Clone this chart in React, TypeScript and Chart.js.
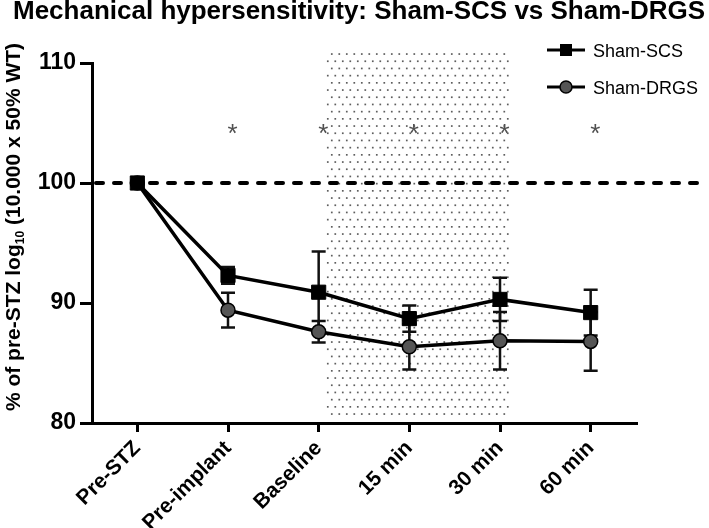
import React, { useEffect, useRef } from 'react';
import { Chart, registerables } from 'chart.js';

Chart.register(...registerables);

// ---- data ----
const categories = ['Pre-STZ', 'Pre-implant', 'Baseline', '15 min', '30 min', '60 min'];
const shamSCS = [100, 92.3, 90.9, 88.7, 90.3, 89.2];
const shamSCSErr = [0, 0.7, 3.4, 1.1, 1.8, 1.9];
const shamDRGS = [100, 89.4, 87.6, 86.35, 86.85, 86.8];
const shamDRGSErr = [0, 1.45, 0.9, 1.9, 2.4, 2.45];
const significance = ['', '*', '*', '*', '*', '*'];
const significanceLevel = 104.65;
const referenceValue = 100;
const stimulationStart = 2.1;
const stimulationEnd = 4.1;
const stimulationTop = 110.75;
const yMin = 80;
const yMax = 110;
const yStep = 10;

const FONT = '"Liberation Sans", Arial, sans-serif';

const decorPlugin = {
  id: 'decor',
  beforeDatasetsDraw(chart: any) {
    const { ctx, chartArea, scales } = chart;
    const x = scales.x;
    const y = scales.y;
    ctx.save();
    // dotted stimulation region
    const x0 = x.getPixelForValue(stimulationStart);
    const x1 = x.getPixelForValue(stimulationEnd);
    const yTop = y.getPixelForValue(stimulationTop);
    const yBot = chartArea.bottom - 2;
    ctx.fillStyle = '#5e5e5e';
    let row = 0;
    for (let py = yTop; py <= yBot; py += 7.2) {
      const start = row % 2 === 0 ? x0 + 4 : x0;
      for (let px = start; px <= x1; px += 7.5) {
        ctx.fillRect(px - 0.8, py - 0.8, 1.7, 1.7);
      }
      row++;
    }
    // dashed reference line
    const yr = y.getPixelForValue(referenceValue);
    ctx.beginPath();
    ctx.setLineDash([7, 11]);
    ctx.lineDashOffset = -2;
    ctx.lineCap = 'round';
    ctx.lineWidth = 4;
    ctx.strokeStyle = '#000';
    ctx.moveTo(chartArea.left + 2, yr);
    ctx.lineTo(chart.width - 12, yr);
    ctx.stroke();
    ctx.setLineDash([]);
    ctx.lineCap = 'butt';
    // error bars
    const series = [
      { v: shamDRGS, e: shamDRGSErr },
      { v: shamSCS, e: shamSCSErr },
    ];
    ctx.lineWidth = 2.5;
    ctx.strokeStyle = '#111';
    series.forEach((s) => {
      s.v.forEach((val, i) => {
        const err = s.e[i];
        if (!err) return;
        const px = x.getPixelForValue(i);
        const yh = y.getPixelForValue(val + err);
        const yl = y.getPixelForValue(val - err);
        ctx.beginPath();
        ctx.moveTo(px, yh);
        ctx.lineTo(px, yl);
        ctx.moveTo(px - 7, yh);
        ctx.lineTo(px + 7, yh);
        ctx.moveTo(px - 7, yl);
        ctx.lineTo(px + 7, yl);
        ctx.stroke();
      });
    });
    ctx.restore();
  },
  afterDraw(chart: any) {
    const { ctx, scales } = chart;
    const x = scales.x;
    const y = scales.y;
    ctx.save();
    // asterisks
    ctx.fillStyle = '#505050';
    ctx.font = `26px ${FONT}`;
    ctx.textAlign = 'center';
    ctx.textBaseline = 'alphabetic';
    significance.forEach((s, i) => {
      if (!s) return;
      const px = x.getPixelForValue(i + 0.05);
      const py = y.getPixelForValue(significanceLevel);
      ctx.fillText(s, px, py + 0.58 * 26);
    });
    // title
    ctx.fillStyle = '#000';
    ctx.textAlign = 'left';
    ctx.font = `bold 26px ${FONT}`;
    ctx.fillText('Mechanical hypersensitivity: Sham-SCS vs Sham-DRGS', 13, 19);
    // legend
    const items = [
      { label: 'Sham-SCS', style: 'rect', cy: 50 },
      { label: 'Sham-DRGS', style: 'circle', cy: 87 },
    ];
    items.forEach((it) => {
      ctx.beginPath();
      ctx.lineWidth = 3;
      ctx.strokeStyle = '#000';
      ctx.moveTo(547, it.cy);
      ctx.lineTo(585, it.cy);
      ctx.stroke();
      if (it.style === 'rect') {
        ctx.fillStyle = '#000';
        ctx.fillRect(560, it.cy - 6, 12, 12);
      } else {
        ctx.beginPath();
        ctx.arc(566, it.cy, 6, 0, Math.PI * 2);
        ctx.fillStyle = '#555';
        ctx.fill();
        ctx.lineWidth = 1.5;
        ctx.stroke();
      }
      ctx.fillStyle = '#000';
      ctx.font = `18px ${FONT}`;
      ctx.fillText(it.label, 593, it.cy + 7);
    });
    // y axis title with subscript
    ctx.translate(12, 227);
    ctx.rotate(-Math.PI / 2);
    const p1 = '% of pre-STZ log';
    const p2 = '10';
    const p3 = ' (10.000 x 50% WT)';
    const big = `bold 21px ${FONT}`;
    const small = `bold 12px ${FONT}`;
    ctx.font = big;
    const w1 = ctx.measureText(p1).width;
    const w3 = ctx.measureText(p3).width;
    ctx.font = small;
    const w2 = ctx.measureText(p2).width;
    const total = w1 + w2 + w3;
    let cx = -total / 2;
    ctx.fillStyle = '#000';
    ctx.font = big;
    ctx.fillText(p1, cx, 7.5);
    cx += w1;
    ctx.font = small;
    ctx.fillText(p2, cx, 11.5);
    cx += w2;
    ctx.font = big;
    ctx.fillText(p3, cx, 7.5);
    ctx.restore();
  },
};

export default function App() {
  const ref = useRef<HTMLCanvasElement | null>(null);
  useEffect(() => {
    document.body.style.margin = '0';
    if (!ref.current) return;
    const chart = new Chart(ref.current, {
      type: 'line',
      data: {
        labels: categories,
        datasets: [
          {
            label: 'Sham-SCS',
            data: shamSCS,
            borderColor: '#000',
            borderWidth: 3.5,
            pointStyle: 'rect',
            pointRadius: 10,
            pointBackgroundColor: '#000',
            pointBorderColor: '#000',
            pointBorderWidth: 1,
            tension: 0,
            clip: false,
          },
          {
            label: 'Sham-DRGS',
            data: shamDRGS,
            borderColor: '#000',
            borderWidth: 3.5,
            pointStyle: 'circle',
            pointRadius: 7,
            pointBackgroundColor: '#555',
            pointBorderColor: '#000',
            pointBorderWidth: 1.5,
            tension: 0,
            clip: false,
          },
        ],
      },
      options: {
        animation: false,
        responsive: true,
        maintainAspectRatio: false,
        layout: { padding: { top: 63, right: 73, left: 0, bottom: 0 } },
        plugins: { legend: { display: false }, tooltip: { enabled: false }, title: { display: false } },
        scales: {
          x: {
            type: 'category',
            offset: true,
            grid: { display: true, drawOnChartArea: false, drawTicks: true, tickLength: 9, color: '#000', lineWidth: 3, offset: false },
            border: { display: true, color: '#000', width: 3 },
            ticks: {
              color: '#000',
              font: { family: FONT, size: 21, weight: 'bold' },
              minRotation: 45,
              maxRotation: 45,
              padding: 4,
              autoSkip: false,
            },
            afterFit: (s: any) => {
              s.height = 105;
            },
          },
          y: {
            min: yMin,
            max: yMax,
            grid: { display: true, drawOnChartArea: false, drawTicks: true, tickLength: 12, color: '#000', lineWidth: 3 },
            border: { display: true, color: '#000', width: 3 },
            ticks: {
              stepSize: yStep,
              color: '#000',
              font: { family: FONT, size: 23, weight: 'bold' },
              padding: 4,
            },
            afterFit: (s: any) => {
              s.width = 92;
            },
          },
        },
      },
      plugins: [decorPlugin],
    } as any);
    return () => chart.destroy();
  }, []);
  return (
    <div style={{ width: 709, height: 528, position: 'relative' }}>
      <canvas ref={ref} />
    </div>
  );
}
